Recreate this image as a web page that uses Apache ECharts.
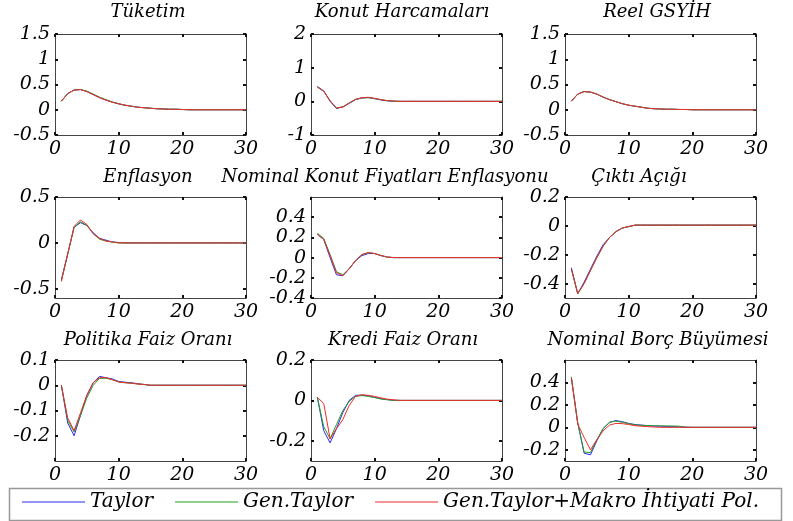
<!DOCTYPE html>
<html>
<head>
<meta charset="utf-8">
<script src="https://cdn.jsdelivr.net/npm/echarts@6/dist/echarts.min.js"></script>
<style>
  html, body { margin: 0; padding: 0; background: #fff; }
  #chart { width: 793px; height: 521px; }
</style>
</head>
<body>
<div id="chart"></div>
<script>
// horizon (quarters after the shock)
const horizon = [1, 2, 3, 4, 5, 6, 7, 8, 9, 10, 11, 12, 13, 14, 15, 16, 17, 18, 19, 20, 21, 22, 23, 24, 25, 26, 27, 28, 29, 30]
const xTicks = [0, 10, 20, 30]
const seriesNames = ['Taylor', 'Gen.Taylor', 'Gen.Taylor+Makro İhtiyati Pol.']

// Tüketim
const tuketimTicks = [-0.5, 0, 0.5, 1, 1.5]
const tuketimTaylor = [0.17, 0.32, 0.39, 0.40, 0.36, 0.30, 0.24, 0.19, 0.15, 0.115, 0.09, 0.07, 0.05, 0.04, 0.03, 0.02, 0.015, 0.01, 0.01, 0.005, 0, 0, 0, 0, 0, 0, 0, 0, 0, 0]
const tuketimGen = [0.17, 0.32, 0.39, 0.40, 0.37, 0.31, 0.25, 0.20, 0.155, 0.12, 0.09, 0.07, 0.05, 0.04, 0.03, 0.02, 0.015, 0.01, 0.01, 0.005, 0, 0, 0, 0, 0, 0, 0, 0, 0, 0]
const tuketimMakro = [0.17, 0.32, 0.39, 0.40, 0.36, 0.30, 0.24, 0.19, 0.15, 0.12, 0.09, 0.07, 0.05, 0.04, 0.03, 0.02, 0.015, 0.01, 0.01, 0.005, 0, 0, 0, 0, 0, 0, 0, 0, 0, 0]

// Konut Harcamaları
const konutTicks = [-1, 0, 1, 2]
const konutTaylor = [0.44, 0.31, 0.0, -0.21, -0.17, -0.06, 0.05, 0.10, 0.11, 0.08, 0.04, 0.015, 0, 0, 0, 0, 0, 0, 0, 0, 0, 0, 0, 0, 0, 0, 0, 0, 0, 0]
const konutGen = [0.43, 0.30, 0.01, -0.20, -0.16, -0.05, 0.06, 0.10, 0.11, 0.08, 0.05, 0.02, 0.005, 0, 0, 0, 0, 0, 0, 0, 0, 0, 0, 0, 0, 0, 0, 0, 0, 0]
const konutMakro = [0.42, 0.30, 0.02, -0.20, -0.17, -0.05, 0.06, 0.11, 0.12, 0.09, 0.05, 0.02, 0.01, 0, 0, 0, 0, 0, 0, 0, 0, 0, 0, 0, 0, 0, 0, 0, 0, 0]

// Reel GSYİH
const gsyihTicks = [-0.5, 0, 0.5, 1, 1.5]
const gsyihTaylor = [0.17, 0.31, 0.36, 0.35, 0.31, 0.25, 0.20, 0.16, 0.12, 0.09, 0.07, 0.05, 0.03, 0.02, 0.015, 0.01, 0.01, 0.005, 0.005, 0, 0, 0, 0, 0, 0, 0, 0, 0, 0, 0]
const gsyihGen = [0.17, 0.31, 0.36, 0.35, 0.31, 0.25, 0.20, 0.16, 0.12, 0.09, 0.07, 0.05, 0.03, 0.02, 0.015, 0.01, 0.01, 0.005, 0.005, 0, 0, 0, 0, 0, 0, 0, 0, 0, 0, 0]
const gsyihMakro = [0.17, 0.31, 0.36, 0.35, 0.31, 0.25, 0.20, 0.16, 0.12, 0.09, 0.07, 0.05, 0.03, 0.02, 0.015, 0.01, 0.01, 0.005, 0.005, 0, 0, 0, 0, 0, 0, 0, 0, 0, 0, 0]

// Enflasyon
const enflasyonTicks = [-0.5, 0, 0.5]
const enflasyonTaylor = [-0.40, -0.12, 0.17, 0.22, 0.19, 0.11, 0.05, 0.03, 0.01, 0.005, 0, 0, 0, 0, 0, 0, 0, 0, 0, 0, 0, 0, 0, 0, 0, 0, 0, 0, 0, 0]
const enflasyonGen = [-0.41, -0.12, 0.17, 0.23, 0.19, 0.10, 0.04, 0.02, 0.01, 0, 0, 0, 0, 0, 0, 0, 0, 0, 0, 0, 0, 0, 0, 0, 0, 0, 0, 0, 0, 0]
const enflasyonMakro = [-0.42, -0.12, 0.18, 0.25, 0.20, 0.10, 0.05, 0.02, 0.01, 0, 0, 0, 0, 0, 0, 0, 0, 0, 0, 0, 0, 0, 0, 0, 0, 0, 0, 0, 0, 0]

// Nominal Konut Fiyatları Enflasyonu
const fiyatTicks = [-0.4, -0.2, 0, 0.2, 0.4]
const fiyatTaylor = [0.23, 0.18, 0.0, -0.17, -0.18, -0.11, -0.03, 0.02, 0.04, 0.04, 0.02, 0.005, 0, 0, 0, 0, 0, 0, 0, 0, 0, 0, 0, 0, 0, 0, 0, 0, 0, 0]
const fiyatGen = [0.24, 0.19, 0.03, -0.14, -0.17, -0.11, -0.03, 0.03, 0.05, 0.04, 0.02, 0.005, 0, 0, 0, 0, 0, 0, 0, 0, 0, 0, 0, 0, 0, 0, 0, 0, 0, 0]
const fiyatMakro = [0.23, 0.18, 0.02, -0.15, -0.18, -0.11, -0.03, 0.03, 0.05, 0.04, 0.02, 0.005, 0, 0, 0, 0, 0, 0, 0, 0, 0, 0, 0, 0, 0, 0, 0, 0, 0, 0]

// Çıktı Açığı
const aciTicks = [-0.4, -0.2, 0, 0.2]
const aciTaylor = [-0.29, -0.47, -0.39, -0.30, -0.21, -0.13, -0.08, -0.04, -0.015, -0.005, 0.005, 0.005, 0.005, 0.005, 0.005, 0.005, 0.005, 0.005, 0.005, 0.005, 0.005, 0.005, 0.005, 0.005, 0.005, 0.005, 0.005, 0.005, 0.005, 0.005]
const aciGen = [-0.30, -0.47, -0.40, -0.31, -0.22, -0.14, -0.08, -0.04, -0.015, -0.005, 0.005, 0.005, 0.005, 0.005, 0.005, 0.005, 0.005, 0.005, 0.005, 0.005, 0.005, 0.005, 0.005, 0.005, 0.005, 0.005, 0.005, 0.005, 0.005, 0.005]
const aciMakro = [-0.30, -0.47, -0.40, -0.31, -0.22, -0.14, -0.08, -0.04, -0.015, -0.005, 0.005, 0.005, 0.005, 0.005, 0.005, 0.005, 0.005, 0.005, 0.005, 0.005, 0.005, 0.005, 0.005, 0.005, 0.005, 0.005, 0.005, 0.005, 0.005, 0.005]

// Politika Faiz Oranı
const politikaTicks = [-0.2, -0.1, 0, 0.1]
const politikaTaylor = [0.0, -0.15, -0.20, -0.12, -0.04, 0.01, 0.035, 0.03, 0.025, 0.015, 0.012, 0.01, 0.006, 0.003, 0, 0, 0, 0, 0, 0, 0, 0, 0, 0, 0, 0, 0, 0, 0, 0]
const politikaGen = [0.0, -0.14, -0.185, -0.12, -0.05, 0.0, 0.027, 0.028, 0.022, 0.013, 0.01, 0.008, 0.005, 0.003, 0, 0, 0, 0, 0, 0, 0, 0, 0, 0, 0, 0, 0, 0, 0, 0]
const politikaMakro = [0.0, -0.13, -0.18, -0.11, -0.04, 0.01, 0.03, 0.03, 0.022, 0.013, 0.01, 0.008, 0.005, 0.003, 0, 0, 0, 0, 0, 0, 0, 0, 0, 0, 0, 0, 0, 0, 0, 0]

// Kredi Faiz Oranı
const krediTicks = [-0.2, 0, 0.2]
const krediTaylor = [0.015, -0.15, -0.21, -0.14, -0.06, 0.0, 0.025, 0.026, 0.022, 0.015, 0.008, 0.004, 0, 0, 0, 0, 0, 0, 0, 0, 0, 0, 0, 0, 0, 0, 0, 0, 0, 0]
const krediGen = [0.015, -0.13, -0.19, -0.12, -0.05, -0.005, 0.02, 0.024, 0.02, 0.014, 0.007, 0.003, 0, 0, 0, 0, 0, 0, 0, 0, 0, 0, 0, 0, 0, 0, 0, 0, 0, 0]
const krediMakro = [0.015, -0.015, -0.19, -0.14, -0.095, -0.025, 0.02, 0.028, 0.025, 0.02, 0.012, 0.006, 0.003, 0, 0, 0, 0, 0, 0, 0, 0, 0, 0, 0, 0, 0, 0, 0, 0, 0]

// Nominal Borç Büyümesi
const borcTicks = [-0.2, 0, 0.2, 0.4]
const borcTaylor = [0.44, 0.04, -0.23, -0.245, -0.12, -0.01, 0.045, 0.06, 0.05, 0.035, 0.025, 0.02, 0.015, 0.012, 0.01, 0.008, 0.006, 0.004, 0.002, 0, 0, 0, 0, 0, 0, 0, 0, 0, 0, 0]
const borcGen = [0.45, 0.04, -0.22, -0.225, -0.11, -0.01, 0.045, 0.055, 0.045, 0.032, 0.022, 0.018, 0.015, 0.014, 0.013, 0.012, 0.012, 0.01, 0, 0, 0, 0, 0, 0, 0, 0, 0, 0, 0, 0]
const borcMakro = [0.44, 0.03, -0.09, -0.20, -0.11, -0.03, 0.02, 0.035, 0.033, 0.025, 0.015, 0.01, 0.006, 0.003, 0, 0, 0, 0, 0, 0, 0, 0, 0, 0, 0, 0, 0, 0, 0, 0]

const panels = [
  { title: 'Tüketim', min: -0.5, max: 1.5, ticks: tuketimTicks, lines: [tuketimTaylor, tuketimGen, tuketimMakro] },
  { title: 'Konut Harcamaları', min: -1, max: 2, ticks: konutTicks, lines: [konutTaylor, konutGen, konutMakro] },
  { title: 'Reel GSYİH', min: -0.5, max: 1.5, ticks: gsyihTicks, lines: [gsyihTaylor, gsyihGen, gsyihMakro] },
  { title: 'Enflasyon', min: -0.6, max: 0.5, ticks: enflasyonTicks, lines: [enflasyonTaylor, enflasyonGen, enflasyonMakro] },
  { title: 'Nominal Konut Fiyatları Enflasyonu', min: -0.4, max: 0.6, ticks: fiyatTicks, lines: [fiyatTaylor, fiyatGen, fiyatMakro] },
  { title: 'Çıktı Açığı', min: -0.5, max: 0.2, ticks: aciTicks, lines: [aciTaylor, aciGen, aciMakro] },
  { title: 'Politika Faiz Oranı', min: -0.3, max: 0.1, ticks: politikaTicks, lines: [politikaTaylor, politikaGen, politikaMakro] },
  { title: 'Kredi Faiz Oranı', min: -0.3, max: 0.2, ticks: krediTicks, lines: [krediTaylor, krediGen, krediMakro] },
  { title: 'Nominal Borç Büyümesi', min: -0.3, max: 0.6, ticks: borcTicks, lines: [borcTaylor, borcGen, borcMakro] }
]

// layout
const colLeft = [55, 311, 565]
const rowTop = [34, 197, 360]
const plotW = 191
const plotH = 101
const titleX = [[148, 402, 657], [148, 385, 639], [148, 403, 658]]
const titleTop = [3, 168, 331]
const colors = ['#2a2af2', '#22a022', '#f22a2a']
const font = 'DejaVu Serif'
const axisColor = '#444'

const labelStyle = {
  fontFamily: font,
  fontStyle: 'italic',
  fontSize: 19,
  color: '#000'
}

const grid = []
const xAxis = []
const yAxis = []
const title = []
const series = []

panels.forEach((p, i) => {
  const r = Math.floor(i / 3)
  const c = i % 3
  grid.push({
    left: colLeft[c], top: rowTop[r], width: plotW, height: plotH,
    containLabel: false, outerBoundsMode: 'none'
  })
  title.push({
    text: p.title,
    left: titleX[r][c],
    top: titleTop[r],
    textAlign: 'center',
    padding: 0,
    textStyle: { ...labelStyle, fontSize: 18, fontWeight: 'normal' }
  })
  const axisBase = {
    gridIndex: i,
    type: 'value',
    splitLine: { show: false },
    axisLine: { show: true, onZero: false, lineStyle: { color: axisColor, width: 1 } },
    axisTick: { show: true, inside: true, length: 3, lineStyle: { color: '#111', width: 2 } }
  }
  xAxis.push({
    ...axisBase, position: 'bottom', min: 0, max: 30, interval: 10,
    axisLabel: { ...labelStyle, margin: 5, customValues: xTicks }
  })
  xAxis.push({
    ...axisBase, position: 'top', min: 0, max: 30, interval: 10,
    axisLabel: { show: false }
  })
  yAxis.push({
    ...axisBase, position: 'left', min: p.min, max: p.max,
    axisLabel: { ...labelStyle, margin: 5, customValues: p.ticks },
    axisTick: { ...axisBase.axisTick, customValues: p.ticks }
  })
  yAxis.push({
    ...axisBase, position: 'right', min: p.min, max: p.max,
    axisLabel: { show: false, customValues: p.ticks },
    axisTick: { ...axisBase.axisTick, customValues: p.ticks }
  })
  p.lines.forEach((vals, k) => {
    series.push({
      name: seriesNames[k],
      type: 'line',
      xAxisIndex: 2 * i,
      yAxisIndex: 2 * i,
      data: horizon.map((t, j) => [t, vals[j]]),
      symbol: 'none',
      color: colors[k],
      z: 2 + k,
      lineStyle: { color: colors[k], width: 1 },
      itemStyle: { color: colors[k] }
    })
  })
})

const chart = echarts.init(document.getElementById('chart'), null, { renderer: 'canvas' })
chart.setOption({
  animation: false,
  backgroundColor: '#fff',
  color: colors,
  title,
  grid,
  xAxis,
  yAxis,
  series,
  legend: {
    data: seriesNames.map((n, k) => ({ name: n, itemStyle: { color: colors[k] } })),
    left: 22,
    top: 492,
    padding: 0,
    icon: 'rect',
    itemWidth: 63,
    itemHeight: 1,
    itemGap: 22,
    textStyle: { ...labelStyle, fontSize: 20 }
  },
  graphic: [{
    type: 'rect',
    left: 7,
    top: 486,
    shape: { width: 772, height: 32 },
    style: { fill: 'none', stroke: '#999', lineWidth: 1.5 },
    silent: true,
    z: -1
  }]
})
</script>
</body>
</html>
